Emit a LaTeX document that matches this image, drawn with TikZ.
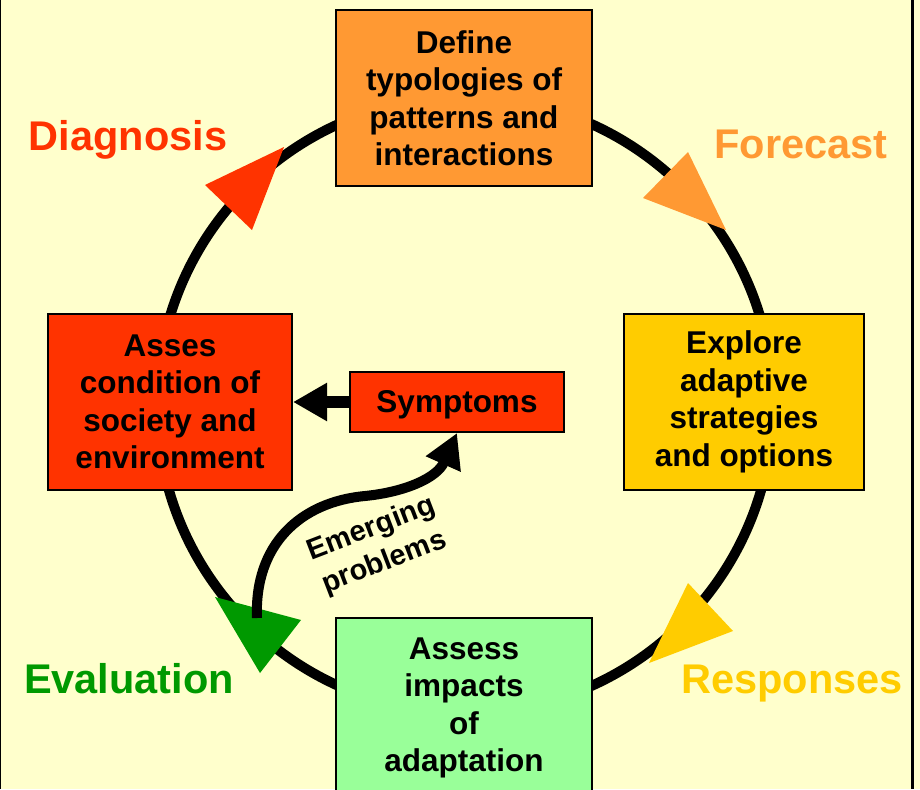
\documentclass[tikz,border=0pt]{standalone}
\usepackage{fontspec}
\setmainfont{Liberation Sans}
\usetikzlibrary{arrows.meta}
\definecolor{bgyellow}{HTML}{FFFFCC}
\definecolor{cred}{HTML}{FF3300}
\definecolor{corange}{HTML}{FF9933}
\definecolor{cyellow}{HTML}{FFCC00}
\definecolor{cgreen}{HTML}{009900}
\definecolor{clgreen}{HTML}{99FF99}
\begin{document}
\begin{tikzpicture}[x=1pt,y=-1pt,
  box/.style={draw=black,line width=2pt,inner sep=0pt,align=center,
    font=\fontsize{31.5}{37.5}\selectfont\bfseries},
  lab/.style={font=\fontsize{41.5}{48}\selectfont\bfseries,anchor=base},
  bigarrow/.style={line width=#1,-{Triangle[length=34pt,width=36pt]}}]
\fill[bgyellow] (0,0) rectangle (920,789);
\useasboundingbox (0,0) rectangle (920,789);
\fill[black] (0,0) rectangle (1.2,789);
\fill[black] (911,0) rectangle (913.5,789);
% main cycle
\draw[line width=10pt] (465,405) circle[radius=308pt];
% boxes
\node[box,fill=corange,minimum width=256pt,minimum height=176pt] (top) at (464,98)
  {Define\\typologies of\\patterns and\\interactions};
\node[box,fill=cred,minimum width=244pt,minimum height=176pt] (left) at (170,402)
  {Asses\\condition of\\society and\\environment};
\node[box,fill=cyellow,minimum width=240pt,minimum height=176pt] (right) at (744,402)
  {\rule{0pt}{0pt}\raisebox{0pt}{}Explore\\adaptive\\strategies\\and options\rule[-2pt]{0pt}{0pt}};
\node[box,fill=clgreen,minimum width=256pt,minimum height=180pt] (bottom) at (464,708)
  {Assess\\impacts\\of\\adaptation};
\node[box,fill=cred,minimum width=214pt,minimum height=60pt,text depth=2pt] (sym) at (457,402)
  {Symptoms};
% cycle arrowheads
\fill[cred] (205,185) -- (284,147) -- (252,230) -- cycle;
\fill[corange] (688,152) -- (643,198) -- (726,230) -- cycle;
\fill[cyellow] (688,583) -- (733,631) -- (649,663) -- cycle;
\fill[cgreen] (215,597) -- (301,620) -- (260,673) -- cycle;
% labels
\node[lab,text=cred] (ldiag) at (128,150) {Diagnosis};
\node[lab,text=corange] (lfore) at (801,158) {Forecast};
\node[lab,text=cgreen] (leval) at (129,693) {Evaluation};
\node[lab,text=cyellow] (lresp) at (792,693) {Responses};
% inner arrows
\draw[bigarrow=12pt] (sym.west) -- (left.east);
\coordinate (emstart) at (257,618);
\draw[bigarrow=10pt] (emstart) .. controls (254,545) and (300,502) .. (365,496)
  .. controls (405,492) and (437,478) .. (sym.south);
\node[rotate=21,align=center,inner sep=0pt,
  font=\fontsize{29}{36}\selectfont\bfseries] (emlab) at (378,546)
  {Emerging\\problems};
\end{tikzpicture}
\end{document}
